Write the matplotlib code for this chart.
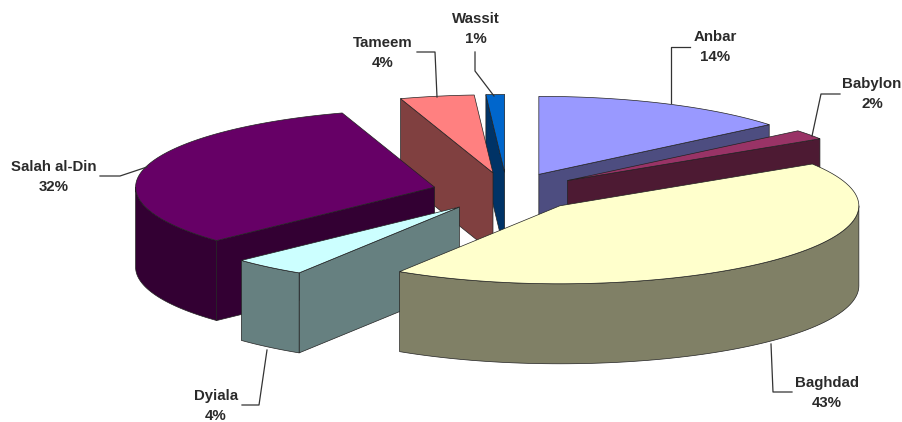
import numpy as np
import matplotlib

matplotlib.use("Agg")
import matplotlib.pyplot as plt

# data
regions = ["Anbar", "Babylon", "Baghdad", "Dyiala", "Salah al-Din", "Tameem", "Wassit"]
shares = [14, 2, 43, 4, 32, 4, 1]

top_colors = ["#9999FF", "#993366", "#FFFFCC", "#CCFFFF", "#660066", "#FF8080", "#0066CC"]
wall_colors = ["#4D4D80", "#4D1A33", "#808066", "#668080", "#330033", "#804040", "#003366"]

# pie geometry in pixels
center_x, center_y = 507, 192
radius_x, radius_y = 299, 78
depth = 80
explode = 0.25

# back slices first, front slices last
draw_order = ["Anbar", "Wassit", "Tameem", "Babylon", "Salah al-Din", "Dyiala", "Baghdad"]

# label centre, leader line points
label_pos = {
    "Anbar": (715, 47),
    "Babylon": (872, 94),
    "Baghdad": (827, 393),
    "Dyiala": (216, 406),
    "Salah al-Din": (54, 177),
    "Tameem": (383, 53),
    "Wassit": (476, 29),
}
leaders = {
    "Anbar": [(690, 47), (671, 47), (671, 103)],
    "Babylon": [(840, 94), (821, 94), (812, 136)],
    "Baghdad": [(792, 392), (773, 392), (771, 344)],
    "Dyiala": [(242, 405), (259, 405), (267, 350)],
    "Salah al-Din": [(100, 176), (120, 176), (147, 167)],
    "Tameem": [(417, 52), (435, 52), (437, 97)],
    "Wassit": [(475, 52), (475, 71), (494, 96)],
}


def rim(theta, cx, cy):
    return cx + radius_x * np.sin(theta), cy - radius_y * np.cos(theta)


def wall(xs, ys, color):
    px = np.concatenate([xs, xs[::-1]])
    py = np.concatenate([ys, (ys + depth)[::-1]])
    ax.fill(px, py, facecolor=color, edgecolor="#222222", linewidth=0.5, joinstyle="round")


fig = plt.figure(figsize=(9.03, 4.22), dpi=100)
ax = fig.add_axes([0, 0, 1, 1])
ax.set_xlim(0, 903)
ax.set_ylim(422, 0)
ax.axis("off")

edges = np.cumsum([0] + shares) / sum(shares) * 2 * np.pi

for name in draw_order:
    i = regions.index(name)
    t0, t1 = edges[i], edges[i + 1]
    mid = (t0 + t1) / 2
    cx = center_x + explode * radius_x * np.sin(mid)
    cy = center_y - explode * radius_y * np.cos(mid)

    # radial wall that faces the viewer
    if np.sin(t0) < -1e-6:
        x, y = rim(t0, cx, cy)
        wall(np.array([cx, x]), np.array([cy, y]), wall_colors[i])
    if np.sin(t1) > 1e-6:
        x, y = rim(t1, cx, cy)
        wall(np.array([cx, x]), np.array([cy, y]), wall_colors[i])

    # outer wall, front half only
    lo, hi = max(t0, np.pi / 2), min(t1, 3 * np.pi / 2)
    if hi > lo:
        x, y = rim(np.linspace(lo, hi, 80), cx, cy)
        wall(x, y, wall_colors[i])

    # top face
    x, y = rim(np.linspace(t0, t1, 80), cx, cy)
    ax.fill(np.r_[cx, x], np.r_[cy, y], facecolor=top_colors[i], edgecolor="#222222", linewidth=0.5)

for name, share in zip(regions, shares):
    lx, ly = label_pos[name]
    ax.text(lx, ly, f"{name}\n{share}%", ha="center", va="center", fontsize=10.8,
            family="Liberation Sans", weight="bold", color="#2a2a2a", linespacing=1.6)
    pts = np.array(leaders[name])
    ax.plot(pts[:, 0], pts[:, 1], color="#333333", linewidth=0.9)

fig.savefig("out.png", dpi=100)
